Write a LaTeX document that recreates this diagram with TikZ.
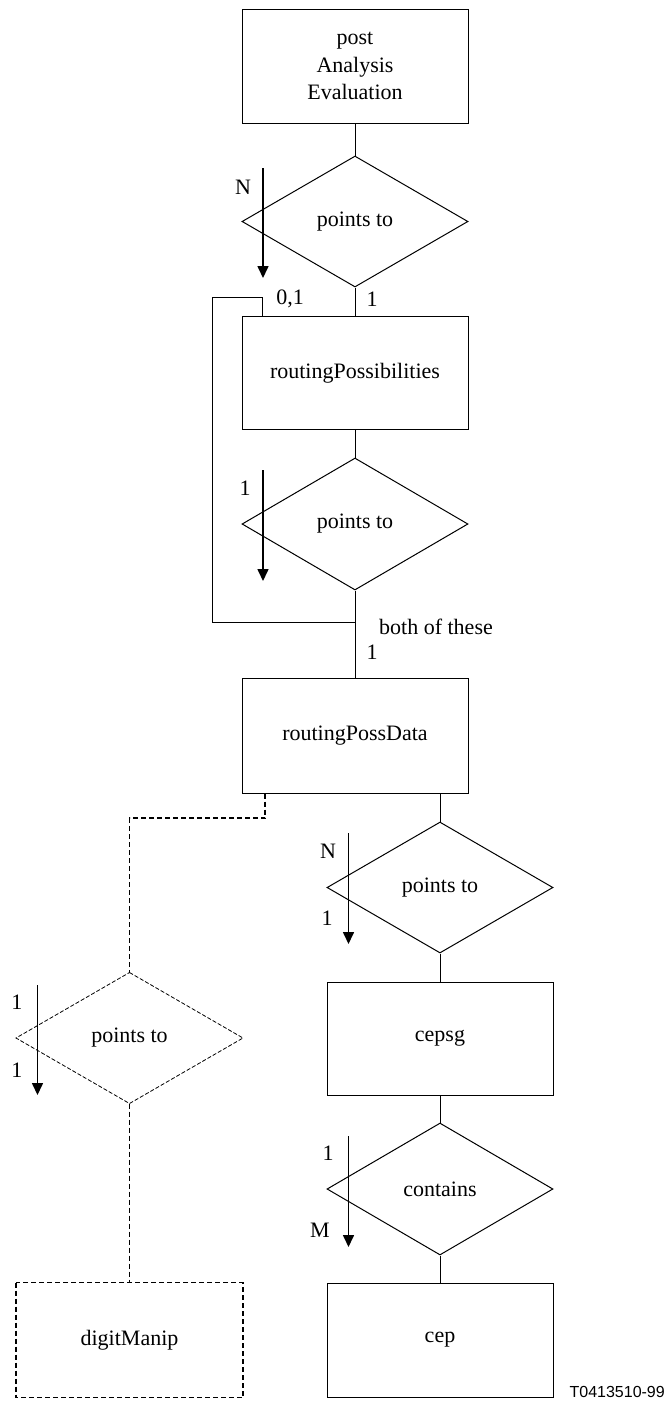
\documentclass[tikz,border=0pt]{standalone}
\usepackage{fontspec}
\setmainfont{Liberation Serif}
\newfontfamily\labelsans{Liberation Sans}
\usetikzlibrary{shapes.geometric,arrows.meta}
\tikzset{
  txt/.style={font=\fontsize{22}{27.5}\selectfont, inner sep=0pt},
  entity/.style={draw, line width=1pt, rectangle, minimum width=226pt, align=center, txt},
  rel/.style={draw, line width=1pt, diamond, inner sep=0pt, minimum width=226pt, minimum height=131pt, txt},
  conn/.style={line width=1pt},
  dconn/.style={line width=1.6pt, dash pattern=on 5pt off 3pt},
  darr/.style={line width=1.6pt, -{Triangle[width=11pt,length=12pt]}},
  lbl/.style={txt}
}
\begin{document}
\begin{tikzpicture}[x=1pt,y=-1pt]
\useasboundingbox (0,0) rectangle (666,1401);
% nodes
\node[entity, minimum height=114pt] (b1) at (355,66) {post\\Analysis\\Evaluation};
\node[rel] (d1) at (355,221.5) {points to};
\node[entity, minimum height=113pt] (b2) at (355,373) {routingPossibilities};
\node[rel, minimum height=132pt] (d2) at (355,524) {points to};
\node[entity, minimum height=115pt] (b3) at (355,735.5) {routingPossData};
\node[rel] (d3) at (440,887.5) {points to};
\node[entity, minimum height=113pt] (b4) at (440,1038.5) {cepsg};
\node[rel, minimum height=132pt] (d5) at (440,1189) {contains};
\node[entity, minimum height=114pt] (b5) at (440,1340) {cep};
\node[rel, draw=none, minimum height=130pt] (d4) at (129.5,1038) {points to};
\draw[line width=0.8pt, dash pattern=on 4pt off 2pt] (d4.north) -- (d4.east) -- (d4.south) -- (d4.west) -- cycle;
\node[entity, draw=none, minimum height=114pt] (b6) at (129.5,1340) {digitManip};
\draw[dconn] (b6.north west) rectangle (b6.south east);
% connectors
\draw[conn] (b1.south) -- (d1.north);
\draw[conn] (d1.south) -- (b2.north);
\draw[conn] (b2.south) -- (d2.north);
\draw[conn] (d2.south) -- (b3.north);
\draw[conn] (b3.south -| d3.north) -- (d3.north);
\draw[conn] (d3.south) -- (b4.north);
\draw[conn] (b4.south) -- (d5.north);
\draw[conn] (d5.south) -- (b5.north);
\coordinate (loopA) at (212,297);
\coordinate (loopJ) at (355,622);
\draw[conn] ([xshift=21pt]b2.north west) |- (loopA) |- (loopJ);
\coordinate (dashK) at (265,818);
\draw[dconn] (b3.south -| dashK) -- (dashK) -| (d4.north);
\draw[dconn] (d4.south) -- (b6.north);
% cardinality arrows
\draw[darr] (263,168) -- (263,278);
\draw[darr] (263,470) -- (263,581);
\draw[darr] (348.5,833) -- (348.5,944);
\draw[darr] (37.5,985) -- (37.5,1095);
\draw[darr] (348.5,1136) -- (348.5,1247);
% labels
\node[lbl] (lN1) at (243,187) {N};
\node[lbl] (l01) at (290,299) {0,1};
\node[lbl] (l1a) at (372,299) {1};
\node[lbl] (l1b) at (245,488) {1};
\node[lbl] (lboth) at (436,627) {both of these};
\node[lbl] (l1c) at (372,652) {1};
\node[lbl] (lN2) at (328,851) {N};
\node[lbl] (l1d) at (327,918) {1};
\node[lbl] (l1e) at (17,1002) {1};
\node[lbl] (l1f) at (17,1070) {1};
\node[lbl] (l1g) at (328,1153) {1};
\node[lbl] (lM) at (320,1230) {M};
\node[inner sep=0pt, anchor=east, font=\labelsans\fontsize{16}{18}\selectfont] (tag) at (665,1392) {T0413510-99};
\end{tikzpicture}
\end{document}
